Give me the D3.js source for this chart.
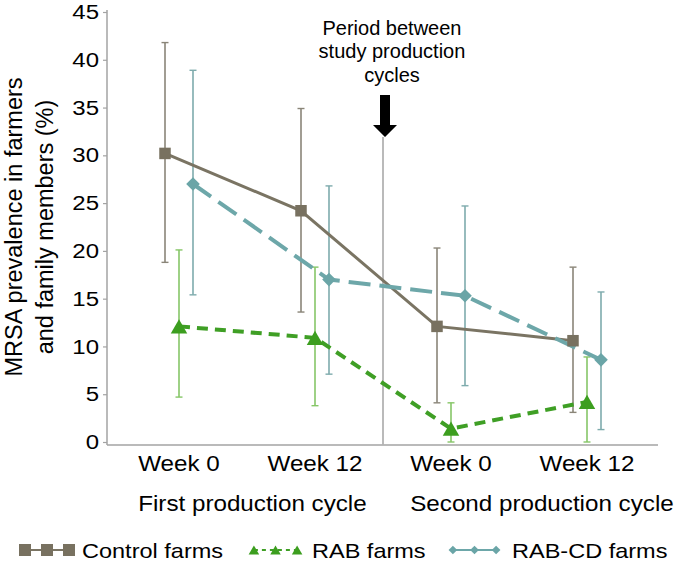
<!DOCTYPE html>
<html>
<head>
<meta charset="utf-8">
<script src="https://cdn.jsdelivr.net/npm/d3@7"></script>
<style>
  body { margin: 0; background: #fff; }
  text { font-family: "Liberation Sans", Arial, sans-serif; fill: #000; }
</style>
</head>
<body>
<svg id="chart" width="674" height="564"></svg>
<script>
// data
const categories = ['c1w0', 'c1w12', 'c2w0', 'c2w12']
const weekLabels = ['Week 0', 'Week 12', 'Week 0', 'Week 12']
const cycleLabels = ['First production cycle', 'Second production cycle']
const yTicks = [0, 5, 10, 15, 20, 25, 30, 35, 40, 45]

const controlVals = [30.2, 24.2, 12.1, 10.6]
const controlLow = [18.8, 13.6, 4.1, 3.1]
const controlHigh = [41.8, 34.9, 20.3, 18.3]

const rabVals = [12.1, 10.9, 1.4, 4.2]
const rabLow = [4.7, 3.8, 0, 0]
const rabHigh = [20.1, 18.3, 4.1, 8.9]

const rabcdVals = [27.0, 17.0, 15.3, 8.6]
const rabcdLow = [15.4, 7.1, 5.9, 1.3]
const rabcdHigh = [38.9, 26.8, 24.7, 15.7]

const series = [
    { name: 'Control farms', vals: controlVals, lo: controlLow, hi: controlHigh, off: -14,
      line: '#7a7463', bar: '#8a8578', mark: '#787160', dash: null, width: 3, shape: 'square' },
    { name: 'RAB-CD farms', vals: rabcdVals, lo: rabcdLow, hi: rabcdHigh, off: 14,
      line: '#6da7a9', bar: '#7eabad', mark: '#6aa5a7', dash: '22,9', width: 4, shape: 'diamond' },
    { name: 'RAB farms', vals: rabVals, lo: rabLow, hi: rabHigh, off: 0,
      line: '#3f9f25', bar: '#86c667', mark: '#3c9e1f', dash: '11,7', width: 4, shape: 'triangle' },
]

const svg = d3.select('#chart')

const x = d3.scalePoint().domain(categories).range([179, 587])
const y = d3.scaleLinear().domain([0, 45]).range([442, 12])

const axisX0 = 107, axisX1 = 658, axisY = 445
const gray = '#a3a3a3'

// axes
svg.append('line').attr('x1', axisX0).attr('x2', axisX0).attr('y1', 10).attr('y2', axisY)
    .attr('stroke', gray).attr('stroke-width', 1.5)
svg.append('line').attr('x1', axisX0).attr('x2', axisX1).attr('y1', axisY).attr('y2', axisY)
    .attr('stroke', gray).attr('stroke-width', 1.5)

const yAxis = svg.append('g')
    .attr('transform', `translate(${axisX0},0)`)
    .call(d3.axisLeft(y).tickValues(yTicks).tickSize(4).tickSizeOuter(0))
yAxis.select('.domain').remove()
yAxis.selectAll('.tick line').attr('stroke', gray).attr('stroke-width', 1.2)
yAxis.selectAll('.tick text')
    .attr('font-size', 20.5)
    .attr('font-family', '"Liberation Sans", Arial, sans-serif')
    .attr('fill', '#000')
    .attr('x', -8 / 1.17)
    .attr('transform', 'scale(1.17,1)')

// y label
const yl = svg.append('text')
    .attr('transform', 'translate(0,227) rotate(-90)')
    .attr('text-anchor', 'middle')
    .attr('font-size', 23.5)
yl.append('tspan').attr('x', 0).attr('y', 22).text('MRSA prevalence in farmers')
yl.append('tspan').attr('x', 0).attr('y', 53).text('and family members (%)')

// week labels
const weekG = svg.selectAll('.week').data(categories).join('g')
    .attr('class', 'week')
    .attr('transform', d => `translate(${x(d)},471) scale(1.1,1)`)
weekG.append('text')
    .attr('text-anchor', 'middle')
    .attr('font-size', 22)
    .text((d, i) => weekLabels[i])

// cycle labels, left aligned with the Week 0 label of each cycle
const wk0Width = weekG.select('text').node().getComputedTextLength() * 1.1
cycleLabels.forEach((lab, i) => {
    const cx = x(categories[i * 2]) - wk0Width / 2
    svg.append('g')
        .attr('transform', `translate(${cx},511) scale(1.1,1)`)
        .append('text')
        .attr('font-size', 22)
        .text(lab)
})

// separator between cycles
const sepX = (x(categories[1]) + x(categories[2])) / 2
svg.append('line').attr('x1', sepX).attr('x2', sepX).attr('y1', 137).attr('y2', axisY)
    .attr('stroke', '#b3b3b3').attr('stroke-width', 1.8)

// arrow
const ax = sepX + 2
svg.append('path')
    .attr('d', `M${ax - 5},95 L${ax + 5},95 L${ax + 5},125 L${ax + 12},125 L${ax},137 L${ax - 12},125 L${ax - 5},125 Z`)
    .attr('fill', '#000')

const ann = svg.append('text').attr('text-anchor', 'middle').attr('font-size', 20)
const annLines = ['Period between', 'study production', 'cycles']
annLines.forEach((t, i) => {
    ann.append('tspan').attr('x', sepX + 9).attr('y', 34.5 + i * 23.5).text(t)
})

// error bars
series.forEach(s => {
    const g = svg.append('g')
    s.vals.forEach((v, i) => {
        const cx = x(categories[i]) + s.off
        g.append('line').attr('x1', cx).attr('x2', cx).attr('y1', y(s.lo[i])).attr('y2', y(s.hi[i]))
            .attr('stroke', s.bar).attr('stroke-width', 1.6)
        ;[s.lo[i], s.hi[i]].forEach(e => {
            g.append('line').attr('x1', cx - 3.5).attr('x2', cx + 3.5).attr('y1', y(e)).attr('y2', y(e))
                .attr('stroke', s.bar).attr('stroke-width', 1.4)
        })
    })
})

// lines
const lineGen = d3.line()
series.forEach(s => {
    const pts = s.vals.map((v, i) => [x(categories[i]) + s.off, y(v)])
    svg.append('path')
        .attr('d', lineGen(pts))
        .attr('fill', 'none')
        .attr('stroke', s.line)
        .attr('stroke-width', s.width)
        .attr('stroke-dasharray', s.dash)
})

// markers
function marker(g, shape, cx, cy, size, color) {
    if (shape === 'square') {
        g.append('rect').attr('x', cx - size / 2).attr('y', cy - size / 2)
            .attr('width', size).attr('height', size).attr('fill', color)
    } else if (shape === 'diamond') {
        const r = size * 0.62
        g.append('path').attr('d', `M${cx},${cy - r} L${cx + r},${cy} L${cx},${cy + r} L${cx - r},${cy} Z`)
            .attr('fill', color)
    } else {
        const w = size * 0.75, h = size * 0.65
        g.append('path').attr('d', `M${cx},${cy - h} L${cx + w},${cy + h} L${cx - w},${cy + h} Z`)
            .attr('fill', color)
    }
}

const sizes = { square: 11.5, diamond: 11, triangle: 11 }
series.forEach(s => {
    const g = svg.append('g')
    s.vals.forEach((v, i) => {
        marker(g, s.shape, x(categories[i]) + s.off, y(v), sizes[s.shape], s.mark)
    })
})

// legend
const legendItems = [
    { s: series[0], x0: 19, x1: 75, tx: 82, size: 12 },
    { s: series[2], x0: 249, x1: 302, tx: 312, size: 7 },
    { s: series[1], x0: 448, x1: 501, tx: 512, size: 7 },
]
const ly = 550
legendItems.forEach(it => {
    const g = svg.append('g')
    const half = it.s.shape === 'square' ? it.size / 2 : it.size * 0.7
    const xs = [it.x0 + half, (it.x0 + it.x1) / 2, it.x1 - half]
    g.append('line').attr('x1', xs[0]).attr('x2', xs[2]).attr('y1', ly).attr('y2', ly)
        .attr('stroke', it.s.line).attr('stroke-width', 2)
        .attr('stroke-dasharray', it.s.shape === 'triangle' ? '4,4' : null)
    xs.forEach(px => marker(g, it.s.shape, px, ly, it.size, it.s.mark))
    g.append('g')
        .attr('transform', `translate(${it.tx},558) scale(1.12,1)`)
        .append('text')
        .attr('font-size', 21)
        .text(it.s.name)
})
</script>
</body>
</html>
